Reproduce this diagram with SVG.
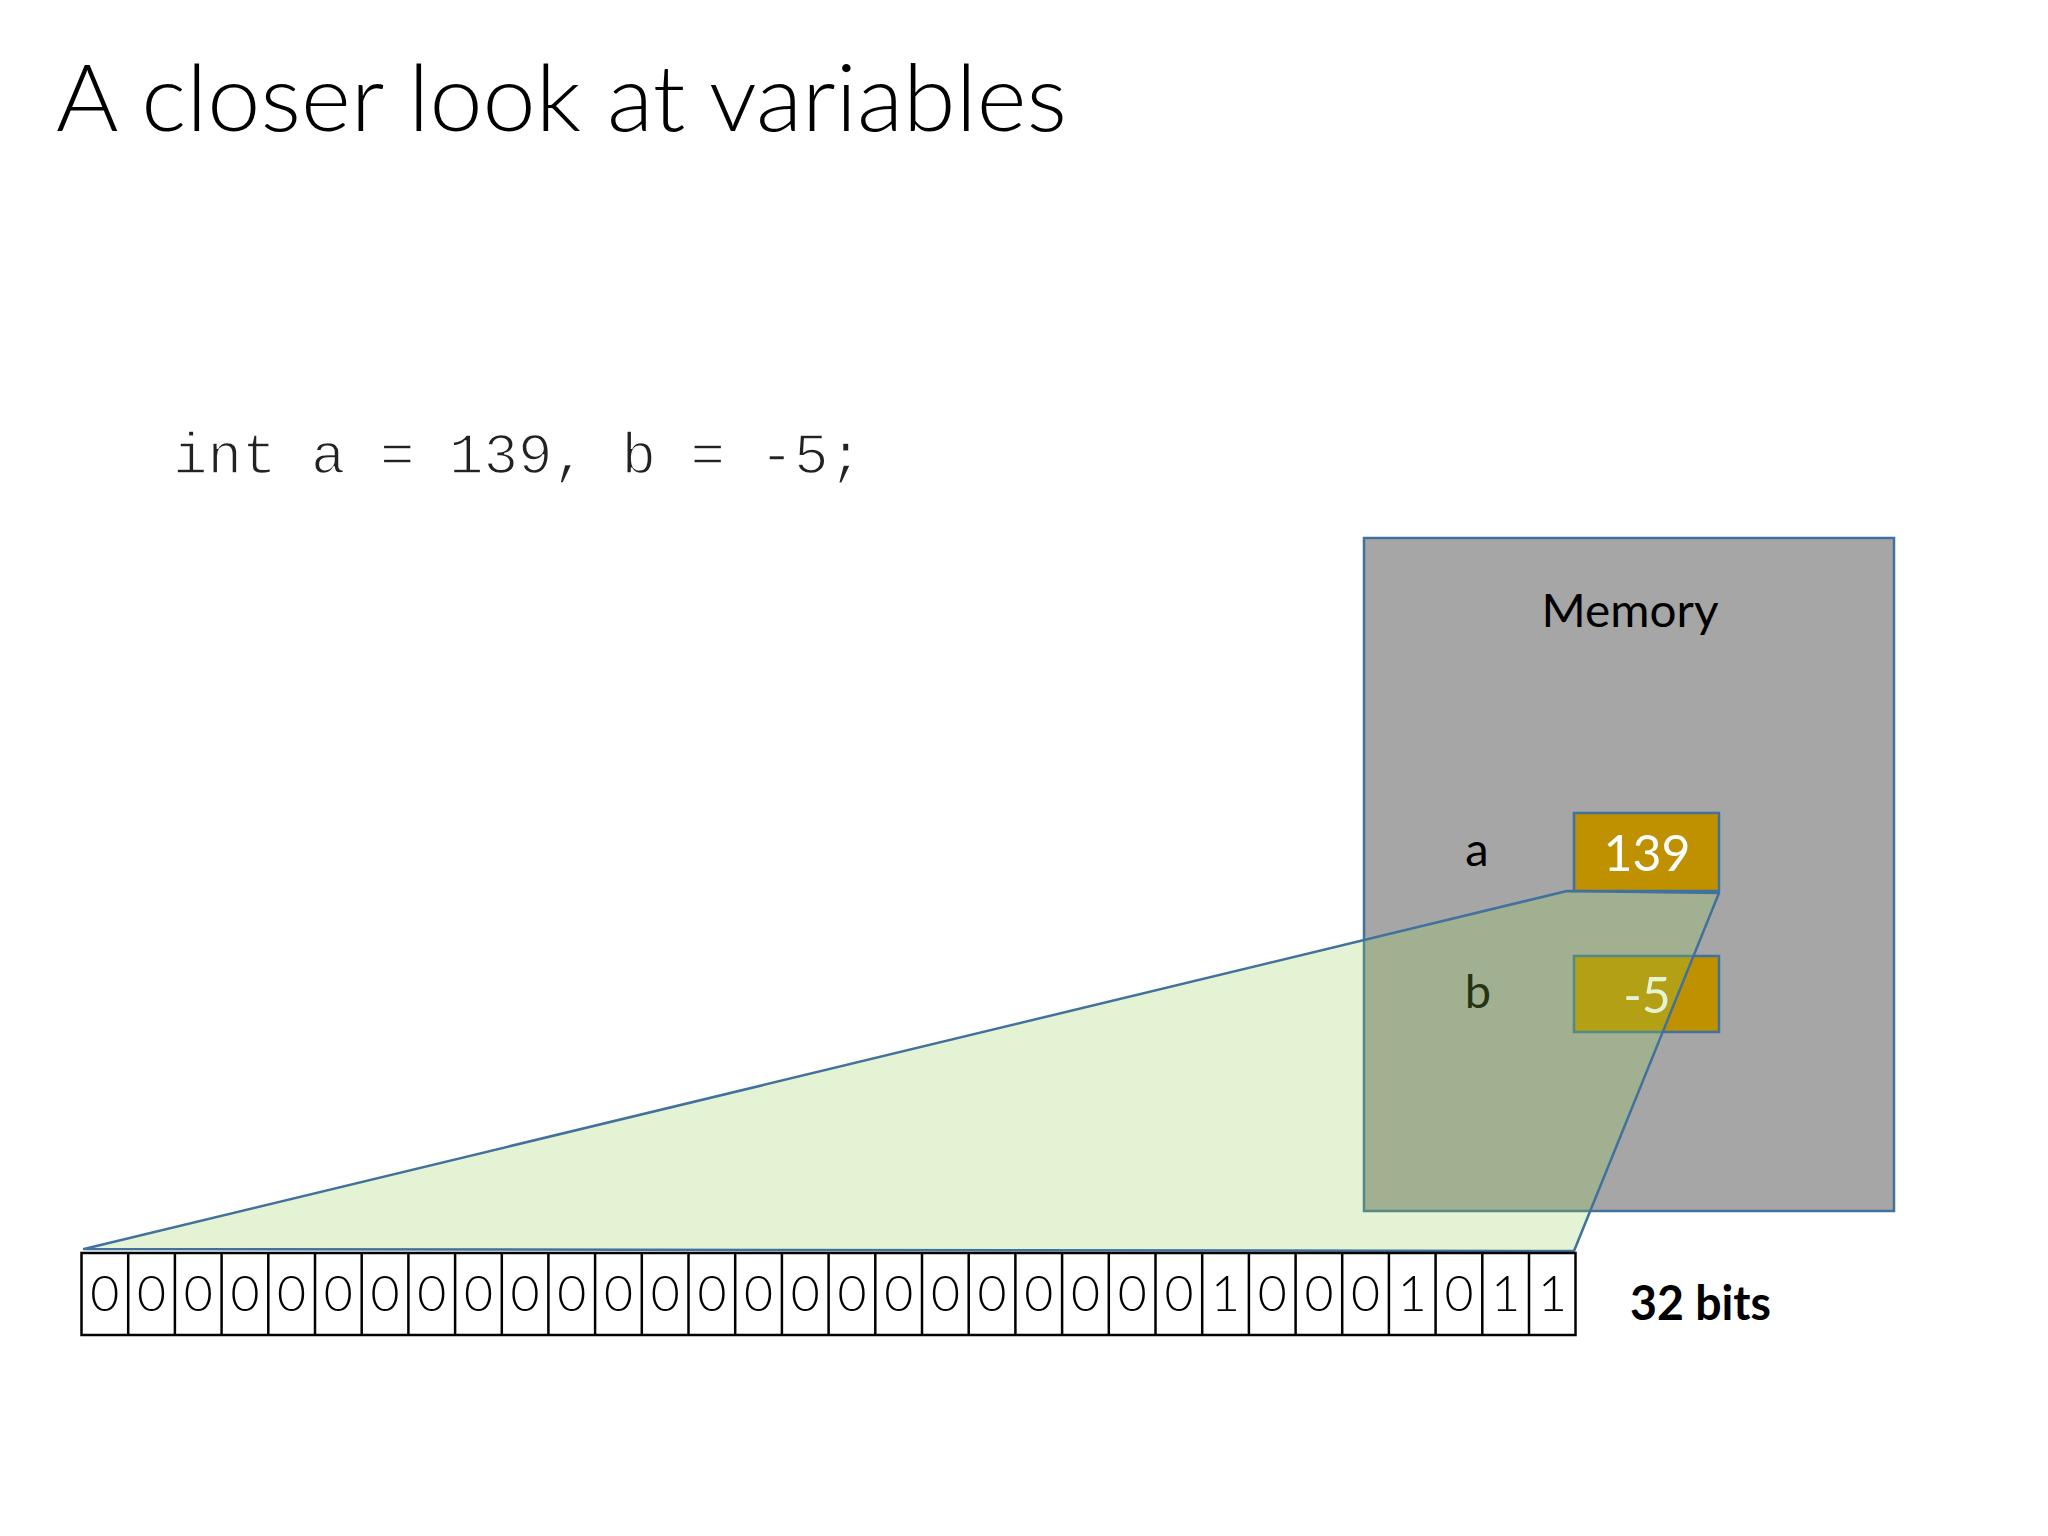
<svg xmlns="http://www.w3.org/2000/svg" width="2048" height="1536" viewBox="0 0 2048 1536">
<style>
.sans{font-family:Lato,"Open Sans","Liberation Sans",sans-serif}
.title{font-size:92px;font-weight:300;fill:#000}
.code{font-family:"Liberation Mono","Courier New",monospace;font-size:57.5px;fill:#222;stroke:#fff;stroke-width:1.6}
.lbl{font-size:47px;fill:#000}
.val{font-size:50px;fill:#fff;text-anchor:middle}
.cell{fill:#fff;stroke:#000;stroke-width:2.5}
.bit{font-size:50px;font-weight:300;fill:#000;text-anchor:middle}
.var{fill:#BF9000;stroke:#41719C;stroke-width:2.5}
</style>
<rect width="2048" height="1536" fill="#fff"/>
<text class="sans title" x="56" y="131" textLength="1011" lengthAdjust="spacingAndGlyphs">A closer look at variables</text>
<text class="code" x="173" y="473" xml:space="preserve">int a = 139, b = -5;</text>
<g id="memory">
<rect x="1364" y="538" width="530" height="673" fill="#A6A6A6" stroke="#41719C" stroke-width="2.5"/>
<text class="sans lbl" x="1630" y="627" text-anchor="middle" textLength="177" lengthAdjust="spacingAndGlyphs">Memory</text>
</g>
<g id="var-a">
<text class="sans lbl" x="1477" y="866" text-anchor="middle">a</text>
<rect class="var" x="1574" y="813" width="145" height="78"/>
<text class="sans val" x="1647" y="871">139</text>
</g>
<g id="var-b">
<text class="sans lbl" x="1478" y="1008" text-anchor="middle">b</text>
<rect class="var" x="1574" y="956" width="145" height="76"/>
<text class="sans val" x="1647" y="1013">-5</text>
</g>
<g id="connectors">
<polygon points="1567,891 1719,893 1574,1251 84,1249" fill="#92D050" fill-opacity="0.25" stroke="#41719C" stroke-width="2.5" stroke-linejoin="round"/>
</g>
<g id="bits">
<rect class="cell" x="81.5" y="1253" width="1494" height="82"/>
<g stroke="#000" stroke-width="2.5">
<path d="M128.2 1253v82M174.9 1253v82M221.6 1253v82M268.3 1253v82M315 1253v82M361.7 1253v82M408.4 1253v82M455.1 1253v82M501.8 1253v82M548.4 1253v82M595.1 1253v82M641.8 1253v82M688.5 1253v82M735.2 1253v82M781.9 1253v82M828.6 1253v82M875.3 1253v82M922 1253v82M968.7 1253v82M1015.4 1253v82M1062.1 1253v82M1108.8 1253v82M1155.5 1253v82M1202.2 1253v82M1248.9 1253v82M1295.6 1253v82M1342.2 1253v82M1388.9 1253v82M1435.6 1253v82M1482.3 1253v82M1529 1253v82"/>
</g>
<g class="sans bit">
<text x="104.8" y="1311">0</text><text x="151.5" y="1311">0</text><text x="198.2" y="1311">0</text><text x="244.9" y="1311">0</text>
<text x="291.6" y="1311">0</text><text x="338.3" y="1311">0</text><text x="385" y="1311">0</text><text x="431.7" y="1311">0</text>
<text x="478.4" y="1311">0</text><text x="525.1" y="1311">0</text><text x="571.8" y="1311">0</text><text x="618.5" y="1311">0</text>
<text x="665.2" y="1311">0</text><text x="711.9" y="1311">0</text><text x="758.6" y="1311">0</text><text x="805.3" y="1311">0</text>
<text x="852" y="1311">0</text><text x="898.7" y="1311">0</text><text x="945.4" y="1311">0</text><text x="992.1" y="1311">0</text>
<text x="1038.8" y="1311">0</text><text x="1085.5" y="1311">0</text><text x="1132.2" y="1311">0</text><text x="1178.9" y="1311">0</text>
<text x="1225.5" y="1311">1</text><text x="1272.2" y="1311">0</text><text x="1318.9" y="1311">0</text><text x="1365.6" y="1311">0</text>
<text x="1412.3" y="1311">1</text><text x="1459" y="1311">0</text><text x="1505.7" y="1311">1</text><text x="1552.4" y="1311">1</text>
</g>
</g>
<text class="sans" x="1630" y="1320" font-size="48" font-weight="700" fill="#000" textLength="141" lengthAdjust="spacingAndGlyphs">32 bits</text>
</svg>
